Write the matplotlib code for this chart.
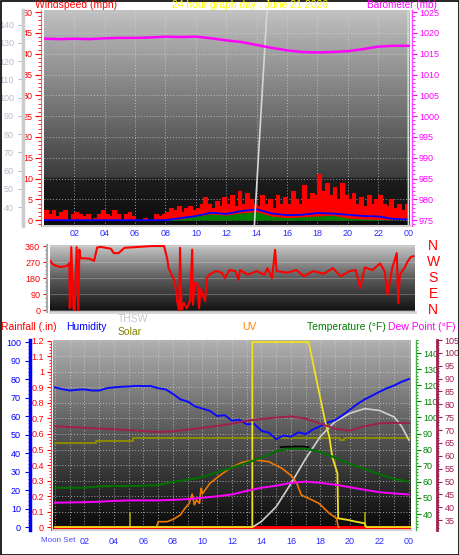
import numpy as np
import matplotlib
matplotlib.use('Agg')
import matplotlib.pyplot as plt
from matplotlib.colors import LinearSegmentedColormap
from matplotlib.ticker import MultipleLocator
from matplotlib.patches import Rectangle

plt.rcParams['font.family'] = ['Liberation Sans', 'DejaVu Sans']

W, H = 459, 555

# ---------------- top panel : wind + barometer ----------------
hours = np.arange(25)
gust_t = np.arange(97) * 0.25
gust = [2.5, 1.5, 2.5, 1.0, 2.0, 2.5, 0.0, 1.5,
        2.0, 1.5, 1.0, 1.5, 0.0, 0.5, 1.5, 2.5,
        1.5, 1.0, 2.5, 1.5, 0.0, 1.5, 2.0, 1.0,
        0.0, 0.0, 0.5, 0.0, 0.0, 1.5, 1.0, 1.5,
        2.0, 3.0, 2.5, 3.5, 2.0, 3.0, 3.5, 2.5,
        3.0, 4.0, 5.5, 4.0, 3.0, 4.5, 3.5, 5.5,
        4.0, 6.0, 3.5, 7.0, 4.0, 6.5, 5.0, 4.0,
        3.5, 6.0, 4.0, 5.0, 3.0, 6.0, 4.0, 5.5,
        4.0, 7.0, 5.0, 4.0, 8.5, 5.0, 6.5, 6.0,
        11.0, 7.0, 9.0, 6.0, 8.0, 5.0, 9.0, 6.0,
        5.0, 6.5, 4.0, 5.5, 3.5, 6.0, 4.0, 5.0,
        6.0, 4.0, 3.5, 5.0, 3.0, 4.0, 2.5, 4.0, 4.0]
wind_avg = [0, 0, 0, 0, 0, 0, 0, 0, 0, 0.5, 1.0, 1.8, 1.5, 2.2, 2.6, 1.6,
            1.2, 1.3, 1.7, 1.6, 1.3, 1.0, 0.9, 0.3, 0.2]
wind_low = [0, 0, 0, 0, 0, 0, 0, 0, 0, 0.3, 1.0, 1.5, 1.2, 1.8, 2.0, 1.0,
            0.6, 0.8, 1.0, 1.2, 0.5, 0.3, 0.2, 0, 0]
baro = [1018.6, 1018.5, 1018.6, 1018.5, 1018.7, 1018.8, 1018.8, 1018.9,
        1019.1, 1019.0, 1019.1, 1018.7, 1018.2, 1017.8, 1017.1, 1016.4,
        1015.8, 1015.4, 1015.3, 1015.4, 1015.6, 1016.1, 1016.7, 1016.9, 1016.9]
sweep_t = [13.85, 14.7, 23.97, 24.0]
sweep_v = [29.6, 150, 150, 29.6]

# ---------------- middle panel : wind direction ----------------
dir_t = [0, 0.22, 0.66, 1.1, 1.27, 1.3, 1.4, 1.54, 1.62, 1.75, 1.86, 1.93, 2.0,
         2.6, 2.9, 3.1, 3.35, 4.0, 4.2, 4.5, 4.9, 6.7, 7.5, 7.7, 7.8, 8.0, 8.2,
         8.3, 8.4, 8.5, 8.55, 8.65, 8.8, 9.0, 9.2, 9.35, 9.4, 9.5, 9.7, 9.8,
         9.9, 10.2, 10.3, 10.5, 10.9, 11.3, 11.5, 11.8, 12.2, 12.4, 12.5, 13.0,
         13.6, 14.1, 14.3, 14.6, 14.8, 14.9, 15.6, 16.2, 16.7, 17.3, 18.0, 18.6,
         19.1, 19.7, 20.1, 20.4, 20.7, 21.2, 21.7, 22.0, 22.2, 22.5, 22.8, 22.9,
         23.0, 23.3, 23.5, 23.7, 23.9]
dir_v = [277, 255, 242, 247, 264, 11, 354, 10, 0, 354, 0, 340, 292,
         289, 277, 352, 355, 345, 320, 320, 350, 360, 360, 292, 236, 199, 160,
         96, 30, 0, 350, 0, 40, 10, 50, 340, 30, 150, 150, 10,
         120, 50, 180, 200, 220, 210, 180, 225, 219, 170, 225, 199,
         219, 199, 236, 180, 339, 219, 210, 225, 190, 219, 204, 236,
         190, 219, 225, 124, 240, 225, 262, 219, 86, 236, 320, 39,
         199, 236, 270, 297, 303]
compass = ['N', 'W', 'S', 'E', 'N']

# ---------------- bottom panel ----------------
half = np.arange(49) * 0.5
humidity = [75.5, 74.5, 73.8, 74.2, 74.4, 73.8, 73.8, 75.0, 75.5, 75.8, 76.0,
            76.3, 76.2, 76.2, 75.0, 74.4, 72.0, 69.0, 67.8, 65.2, 64.0, 62.8,
            60.0, 60.5, 57.5, 58.0, 55.5, 55.8, 52.0, 51.0, 47.5, 49.5, 48.8,
            51.2, 50.2, 52.8, 54.5, 56.5, 57.8, 60.5, 63.5, 66.5, 69.0, 71.0,
            73.1, 75.0, 76.5, 78.5, 80.0]
heat = [71.5, 71.2, 70.9, 70.6, 70.3, 70.0, 69.6, 69.3, 69.5, 70.2, 70.9, 71.6,
        72.5, 73.6, 74.3, 74.9, 75.3, 74.5, 72.5, 70.5, 69.8, 71.5, 72.6, 72.8, 72.8]
temp = [56.3, 56.3, 56.3, 57.2, 57.4, 57.4, 57.6, 58.0, 60.0, 61.3, 63.0, 66.0,
        68.8, 71.8, 75.0, 79.0, 80.8, 80.6, 78.5, 75.0, 71.0, 68.0, 64.8, 61.8, 60.1]
temp_hi_t = [15.3, 16.0, 16.8, 17.2]
temp_hi = [81.6, 81.9, 82.0, 81.6]
dew = [41.8, 41.9, 42.0, 42.2, 42.5, 42.7, 42.7, 42.7, 42.9, 43.2, 43.7, 44.3,
       45.0, 46.4, 47.6, 48.4, 49.5, 50.0, 49.5, 48.8, 47.8, 46.8, 45.9, 45.4, 45.0]
solar_t = [0, 2.8, 5.3, 19.3, 19.6, 24.1]
solar = [45.6, 46.5, 48.0, 47.2, 48.0, 48.0]
solar_spike_t = [5.1, 21.05]
solar_spike = [8, 8]
uv_t = [6.9, 7.0, 7.6, 8.0, 8.5, 8.8, 9.1, 9.3, 9.45, 9.6, 9.8, 9.9, 10.0, 10.5,
        11.2, 11.9, 12.7, 13.6, 14.5, 15.4, 16.1, 16.4, 16.7, 17.2, 17.9, 18.6,
        19.1, 19.2, 19.25]
uv = [0.5, 2.9, 2.9, 4.1, 6.5, 10, 12.8, 17.8, 12, 14.6, 12.8, 21, 18, 23.6,
      28, 32, 35, 36.2, 35.3, 31.7, 27.2, 23.6, 17.3, 15.5, 12.8, 7.4, 4.7, 0, 0]
yel_t = [0, 13.38, 13.38, 17.2, 18.3, 18.6, 18.8, 19.15, 19.2, 19.9, 20.4, 21.0, 21.1, 24.1]
yel = [0, 0, 100, 100, 57.8, 48.8, 38, 29, 4.7, 3.8, 2.9, 2.0, 0, 0]
thsw_t = [13.4, 14, 15, 16, 17, 18, 19, 20, 21, 22, 23, 23.5, 24]
thsw = [0, 3, 11, 23.5, 37, 49, 57, 61.5, 64, 63, 59.5, 54.5, 47]
rain_t = [0, 24]
rain = [0, 0]

hour_ticks = np.arange(2, 25, 2)
hour_labels = ['%02d' % (h % 24) for h in hour_ticks]

FS = 6.5
grid_kw = dict(color='#d8d8d8', lw=0.7, ls=(0, (1, 2)), alpha=0.7)


def shade(ax, stops):
    cmap = LinearSegmentedColormap.from_list('bg', stops)
    grad = np.linspace(0, 1, 400).reshape(-1, 1)
    ax.imshow(grad, cmap=cmap, aspect='auto', origin='lower', extent=(0, 1, 0, 1),
              transform=ax.transAxes, zorder=0, interpolation='bilinear')


def side_axis(ax, side, out_px, color, lw=1.0):
    for s in ['top', 'bottom', 'left', 'right']:
        ax.spines[s].set_visible(s == side)
    ax.spines[side].set_position(('outward', out_px * 0.72))
    ax.spines[side].set_color(color)
    ax.spines[side].set_linewidth(lw)
    if side == 'left':
        ax.yaxis.set_ticks_position('left')
    else:
        ax.yaxis.set_ticks_position('right')


def px(x, y):
    return x / W, 1 - y / H


fig = plt.figure(figsize=(W / 100, H / 100), dpi=100)
fig.patch.set_facecolor('white')

# ===== top =====
ax1 = fig.add_axes([44 / W, 1 - 226 / H, 366 / W, 216 / H])
shade(ax1, [(0, '#0c0c0c'), (0.22, '#1e1e1e'), (0.222, '#3c3c3c'), (1, '#c2c2c2')])
ax1.set_xlim(0, 24.1)
ax1.set_ylim(-1.4, 50.5)
ax1.fill_between(gust_t, 0, gust, step='post', color='#ff0000', lw=0, zorder=3)
ax1.step(gust_t, gust, where='post', color='#ff0000', lw=0.8, zorder=3)
ax1.fill_between(hours, 0, wind_low, color='#008000', lw=0, zorder=4)
ax1.plot(hours, wind_avg, color='#0000ff', lw=1.3, zorder=5)
ax1.set_xticks(hour_ticks)
ax1.set_xticklabels(hour_labels)
ax1.tick_params(axis='x', length=0, pad=2, labelsize=FS, colors='#2a2aff')
ax1.set_yticks(np.arange(0, 51, 5))
ax1.yaxis.set_minor_locator(MultipleLocator(1))
ax1.tick_params(axis='y', which='both', colors='#ff0000', labelsize=FS, pad=2)
ax1.tick_params(axis='y', which='major', length=4)
ax1.tick_params(axis='y', which='minor', length=2.5)
for s in ['top', 'right']:
    ax1.spines[s].set_visible(False)
ax1.spines['left'].set_position(('outward', 2))
ax1.spines['left'].set_color('#ff6060')
ax1.spines['left'].set_linestyle((0, (2, 1)))
ax1.spines['bottom'].set_color('#d0d0d0')
ax1.spines['bottom'].set_linewidth(1.5)
ax1.grid(True, **grid_kw)

axg = ax1.twinx()
side_axis(axg, 'left', 21, '#cccccc', lw=2.5)
axg.set_ylim(29.6, 148)
axg.set_yticks(np.arange(40, 141, 10))
axg.yaxis.set_minor_locator(MultipleLocator(2))
axg.tick_params(axis='y', which='both', colors='#bcbccc', labelsize=FS, pad=3)
axg.tick_params(axis='y', which='minor', length=1.5)
axg.plot(sweep_t, sweep_v, color='#d6d6d6', lw=1.2, zorder=2)

axb = ax1.twinx()
side_axis(axb, 'right', 2, '#ff44ff')
axb.set_ylim(973.6, 1025.5)
axb.set_yticks(np.arange(975, 1026, 5))
axb.yaxis.set_minor_locator(MultipleLocator(1))
axb.tick_params(axis='y', which='both', colors='#ff00ff', labelsize=FS, pad=1.5)
axb.tick_params(axis='y', which='minor', length=2)
axb.plot(hours, baro, color='#ff00ff', lw=1.8)

fig.text(*px(35, 4.5), 'Windspeed (mph)', color='#ff0000', fontsize=7.5, va='center', ha='left')
fig.text(*px(250, 4.5), '24 hour graph day : June 21 2026', color='#ffff00', fontsize=7.5,
         va='center', ha='center')
fig.text(*px(367, 4.5), 'Barometer (mb)', color='#ff00ff', fontsize=7.2, va='center', ha='left')

# ===== middle =====
ax2 = fig.add_axes([50 / W, 1 - 312 / H, 365 / W, 67 / H])
shade(ax2, [(0, '#101010'), (0.5, '#5c5c5c'), (1, '#cbcbcb')])
ax2.set_xlim(0, 24)
ax2.set_ylim(-11, 366)
ax2.plot(dir_t, dir_v, color='#ff0000', lw=1.5, zorder=3)
ax2.set_xticks([])
ax2.set_yticks([0, 90, 180, 270, 360])
ax2.yaxis.set_minor_locator(MultipleLocator(22.5))
ax2.tick_params(axis='y', which='both', colors='#ff0000', labelsize=FS, pad=2)
ax2.tick_params(axis='y', which='major', length=3)
ax2.tick_params(axis='y', which='minor', length=1.5)
for s in ['top', 'right']:
    ax2.spines[s].set_visible(False)
ax2.spines['left'].set_position(('outward', 2))
ax2.spines['left'].set_color('#a8a8a8')
ax2.spines['left'].set_linewidth(1.5)
ax2.spines['bottom'].set_color('#d4d4d4')
ax2.spines['bottom'].set_linewidth(2)
ax2.grid(True, axis='y', color='#e0e0e0', lw=0.6, alpha=0.35)
for lab, deg in zip(compass, [360, 270, 180, 90, 0]):
    ax2.text(1.05, deg, lab, color='#ff0000', fontsize=10, ha='center', va='center',
             transform=ax2.get_yaxis_transform(), clip_on=False)

# ===== bottom =====
ax3 = fig.add_axes([53 / W, 1 - 530 / H, 358 / W, 190 / H])
shade(ax3, [(0, '#080808'), (0.5, '#555555'), (1, '#b0b0b0')])
ax3.set_xlim(-0.136, 24.14)
ax3.set_ylim(-0.019, 1.206)
ax3.plot(rain_t, rain, color='#ff0000', lw=2.2, zorder=3)
ax3.set_xticks(hour_ticks)
ax3.set_xticklabels(hour_labels)
ax3.xaxis.set_minor_locator(MultipleLocator(1))
ax3.tick_params(axis='x', which='both', length=0, pad=5, labelsize=FS, colors='#2a2aff')
ax3.set_yticks(np.arange(0, 1.21, 0.1))
ax3.set_yticklabels(['%g' % round(v, 1) for v in np.arange(0, 1.21, 0.1)])
ax3.yaxis.set_minor_locator(MultipleLocator(0.02))
ax3.tick_params(axis='y', which='both', colors='#ff0000', labelsize=FS, pad=2)
ax3.tick_params(axis='y', which='major', length=3)
ax3.tick_params(axis='y', which='minor', length=1.5)
for s in ['top', 'right']:
    ax3.spines[s].set_visible(False)
ax3.spines['left'].set_position(('outward', 1.5))
ax3.spines['left'].set_color('#ff4040')
ax3.spines['left'].set_linestyle((0, (2, 1)))
ax3.spines['bottom'].set_color('#d0d0d0')
ax3.spines['bottom'].set_linewidth(1.5)
ax3.grid(True, which='both', axis='x', **grid_kw)
ax3.grid(True, which='major', axis='y', **grid_kw)

axh = ax3.twinx()
side_axis(axh, 'left', 23, '#0000ff', lw=2.5)
axh.set_ylim(-1.6, 101.1)
axh.set_yticks(np.arange(0, 101, 10))
axh.yaxis.set_minor_locator(MultipleLocator(2))
axh.tick_params(axis='y', which='both', colors='#0000ff', labelsize=FS, pad=3)
axh.tick_params(axis='y', which='minor', length=1.5)
axh.step(solar_t, solar, where='post', color='#8c8c00', lw=1.4)
axh.vlines(solar_spike_t, 0, solar_spike, color='#a8a800', lw=1.2)
axh.plot(thsw_t, thsw, color='#d0d0d0', lw=1.2)
axh.plot(half, humidity, color='#0a0aff', lw=1.4)
axh.plot(uv_t, uv, color='#f07800', lw=1.2)
axh.plot(yel_t, yel, color='#f0e020', lw=1.3)

axt = ax3.twinx()
side_axis(axt, 'right', 5, '#40b040')
axt.spines['right'].set_linestyle((0, (2, 1)))
axt.set_ylim(30.1, 148.1)
axt.set_yticks(np.arange(40, 141, 10))
axt.yaxis.set_minor_locator(MultipleLocator(2))
axt.tick_params(axis='y', which='both', colors='#008000', labelsize=FS, pad=1.5)
axt.tick_params(axis='y', which='minor', length=1.5)
axt.plot(hours, temp, color='#007000', lw=1.5)
axt.plot(temp_hi_t, temp_hi, color='#000000', lw=1.2)

axd = ax3.twinx()
side_axis(axd, 'right', 26, '#a01e50', lw=2)
axd.set_ylim(31.2, 104.2)
axd.set_yticks(np.arange(35, 106, 5))
axd.yaxis.set_minor_locator(MultipleLocator(1))
axd.tick_params(axis='y', which='both', colors='#a01e50', labelsize=FS, pad=2)
axd.tick_params(axis='y', which='minor', length=1.5)
axd.plot(hours, heat, color='#a01e50', lw=1.4)
axd.plot(hours, dew, color='#ff00ff', lw=1.4)

fig.text(*px(1, 327), 'Rainfall (.in)', color='#ff0000', fontsize=7.5, va='center', ha='left')
fig.text(*px(66, 327), 'Humidity', color='#0000ff', fontsize=7.5, va='center', ha='left')
fig.text(*px(118, 319), 'THSW', color='#c8c8c8', fontsize=7.5, va='center', ha='left')
fig.text(*px(118, 332), 'Solar', color='#808000', fontsize=7.5, va='center', ha='left')
fig.text(*px(242, 327), 'UV', color='#ff8000', fontsize=7.5, va='center', ha='left')
fig.text(*px(307, 327), 'Temperature (°F)', color='#008000', fontsize=7.5, va='center', ha='left')
fig.text(*px(388, 327), 'Dew Point (°F)', color='#ff00ff', fontsize=7.5, va='center', ha='left')
fig.text(*px(41, 541), 'Moon Set', color='#4a4aff', fontsize=5.8, va='center', ha='left')

fig.add_artist(Rectangle((0.5 / W, 0.5 / H), 1 - 1 / W, 1 - 1 / H, transform=fig.transFigure,
                         fill=False, ec='black', lw=1.2))

fig.savefig('out.png', dpi=100)
